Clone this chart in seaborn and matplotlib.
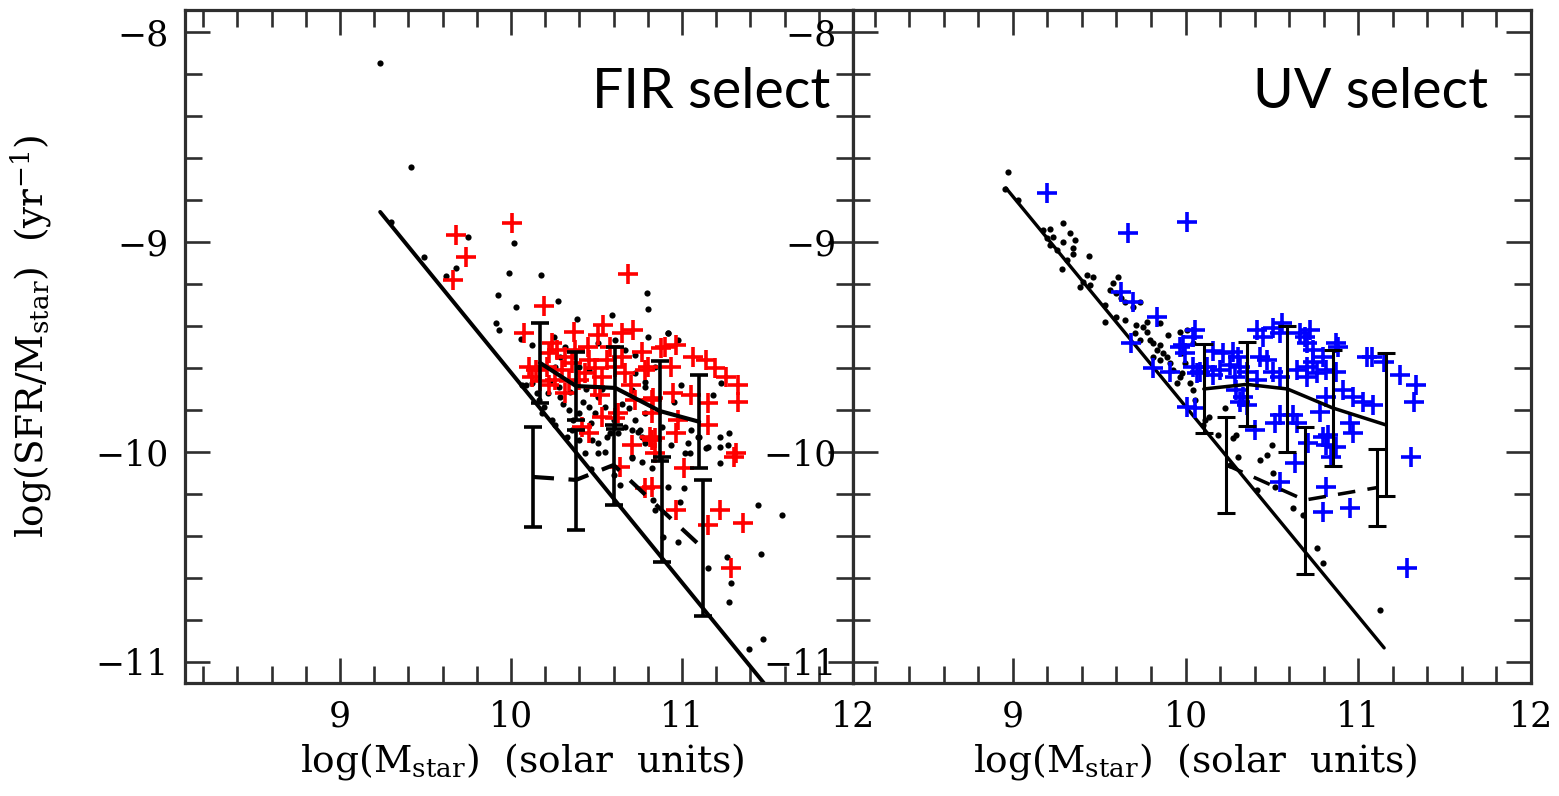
import matplotlib
matplotlib.use("Agg")
import matplotlib.pyplot as plt
from matplotlib.ticker import MultipleLocator
import seaborn as sns

# ---------------- FIR-selected sample (left panel) ----------------
fir_dot_m = [9.233, 9.417, 9.300, 9.494, 9.746, 9.678, 9.620, 10.017, 9.988, 9.924,
             10.030, 9.913, 9.930, 10.173, 10.275, 10.793, 10.802, 10.386, 10.589, 10.800,
             10.124, 10.250, 10.056, 10.725, 11.277, 11.219, 11.267, 11.219, 11.151, 11.219,
             11.442, 11.587, 11.461, 11.264, 11.287, 11.277, 11.471, 11.393, 11.151, 10.977,
             10.890, 11.014, 10.986, 10.841, 10.831, 10.919, 10.638, 10.705, 10.763, 10.822,
             10.434, 10.510, 10.550, 10.510, 10.473, 10.395, 10.628, 10.705, 10.763, 11.035,
             11.093, 11.045, 10.124, 10.163, 10.192, 10.085, 10.279, 10.289, 10.347, 10.337,
             10.395, 10.357, 10.453, 10.510, 10.492, 10.550, 10.579, 10.667, 10.725, 10.783,
             10.754, 10.705, 10.260, 10.289, 10.318, 10.510, 10.607, 10.667, 10.395, 10.453,
             10.725, 10.783, 10.705, 10.841, 10.182, 10.240, 10.066, 10.919, 10.977, 10.996,
             11.180, 11.228, 11.054, 11.141, 10.744, 10.783, 10.938, 11.015, 10.783, 10.919,
             10.215, 10.305, 10.365, 10.420, 10.470, 10.530, 10.600, 10.650, 10.255, 10.330,
             10.440, 10.560, 10.690, 10.880, 10.950, 11.100, 10.600, 10.470, 10.150, 10.230]
fir_dot_s = [-8.149, -8.641, -8.903, -9.070, -8.978, -9.125, -9.162, -9.003, -9.146, -9.252,
             -9.310, -9.386, -9.420, -9.157, -9.279, -9.244, -9.319, -9.367, -9.348, -9.451,
             -9.490, -9.454, -9.463, -9.538, -9.908, -9.927, -9.967, -9.975, -9.975, -10.051,
             -10.252, -10.300, -10.486, -10.502, -10.625, -10.713, -10.892, -10.940, -10.554, -10.427,
             -10.403, -10.173, -10.237, -10.276, -10.229, -10.165, -10.157, -10.030, -10.046, -10.078,
             -10.006, -10.006, -9.998, -9.959, -9.943, -9.943, -9.911, -9.895, -9.927, -9.959,
             -9.927, -10.006, -9.673, -9.752, -9.784, -9.681, -9.689, -9.736, -9.713, -9.800,
             -9.816, -9.895, -9.784, -9.736, -9.816, -9.784, -9.911, -9.879, -9.848, -9.816,
             -9.895, -10.022, -9.594, -9.546, -9.499, -9.483, -9.467, -9.514, -9.594, -9.610,
             -9.625, -9.665, -9.705, -9.594, -9.816, -9.848, -9.681, -9.435, -9.467, -9.681,
             -9.729, -9.673, -9.895, -9.982, -9.903, -9.959, -9.967, -10.006, -9.689, -9.432,
             -9.720, -9.770, -9.850, -9.760, -9.860, -9.700, -9.850, -9.770, -9.870, -9.930,
             -9.700, -9.930, -9.790, -9.880, -9.760, -9.930, -10.110, -10.080, -9.720, -9.660]

fir_ir_m = [9.678, 9.736, 9.659, 10.008, 10.686, 10.192, 10.076, 10.366, 10.540, 10.510,
            10.715, 10.763, 10.105, 10.144, 10.221, 10.318, 10.450, 10.560, 10.666, 10.783,
            10.260, 10.434, 10.492, 10.318, 10.725, 10.822, 10.415, 10.453, 10.531, 10.628,
            10.705, 10.822, 10.822, 10.899, 10.967, 10.802, 10.938, 11.064, 11.141, 11.190,
            11.258, 11.326, 11.326, 11.054, 11.151, 10.948, 10.831, 10.977, 10.967, 11.151,
            10.841, 11.316, 10.812, 10.841, 11.014, 10.638, 10.783, 10.822, 10.967, 11.219,
            11.151, 11.355, 11.287, 11.306, 10.211, 10.357, 10.453, 10.376, 10.298, 10.492,
            10.607, 10.647, 10.531, 10.395, 10.221, 10.124, 10.647, 10.879, 10.270, 10.607,
            10.170, 10.240, 10.340, 10.580, 10.700, 10.520]
fir_ir_s = [-8.967, -9.070, -9.181, -8.911, -9.152, -9.305, -9.432, -9.427, -9.395, -9.443,
            -9.419, -9.522, -9.594, -9.610, -9.530, -9.546, -9.499, -9.562, -9.625, -9.610,
            -9.657, -9.625, -9.689, -9.720, -9.752, -9.752, -9.879, -9.911, -9.832, -9.816,
            -9.967, -9.816, -9.943, -9.499, -9.490, -9.594, -9.594, -9.546, -9.562, -9.601,
            -9.641, -9.681, -9.760, -9.729, -9.768, -9.720, -9.744, -9.848, -9.911, -9.871,
            -9.935, -10.006, -9.927, -10.006, -10.078, -10.070, -10.173, -10.165, -10.276, -10.276,
            -10.348, -10.340, -10.554, -10.022, -9.594, -9.578, -9.562, -9.514, -9.610, -9.601,
            -9.594, -9.546, -9.641, -9.657, -9.681, -9.641, -9.435, -9.506, -9.514, -9.840,
            -9.660, -9.480, -9.660, -9.500, -9.680, -9.730]

# binned medians: upper (solid) and lower (dashed) sequences
fir_hi_m = [10.17, 10.38, 10.61, 10.87, 11.10]
fir_hi_s = [-9.576, -9.686, -9.695, -9.805, -9.856]
fir_hi_e = [0.190, 0.160, 0.195, 0.240, 0.222]
fir_lo_m = [10.13, 10.38, 10.60, 10.88, 11.12]
fir_lo_s = [-10.119, -10.133, -10.062, -10.276, -10.457]
fir_lo_e = [0.240, 0.238, 0.190, 0.250, 0.325]

# constant-SFR detection limit: log(SFR/M) = log SFR_lim - log M
fir_lim_sfr = 0.378
fir_lim_m = [9.235, 11.52]

# ---------------- UV-selected sample (right panel) ----------------
uv_dot_m = [8.973, 8.954, 9.031, 9.291, 9.175, 9.214, 9.195, 9.233, 9.214, 9.330,
            9.359, 9.291, 9.349, 9.349, 9.253, 9.311, 9.282, 9.442, 9.427, 9.465,
            9.407, 9.446, 9.388, 9.610, 9.581, 9.562, 9.600, 9.629, 9.649, 9.533,
            9.600, 9.533, 9.649, 9.697, 9.735, 9.716, 9.755, 9.774, 9.706, 9.735,
            9.793, 9.812, 9.851, 9.832, 9.870, 9.812, 9.851, 9.909, 9.890, 9.899,
            9.967, 10.044, 9.928, 9.967, 10.025, 10.044, 9.948, 10.102, 10.189, 10.276,
            10.305, 10.498, 10.469, 10.430, 10.256, 10.411, 10.507, 10.517, 10.623, 10.681,
            10.759, 10.797, 11.125, 10.133, 10.293, 9.977, 9.977, 10.054, 10.112, 10.228,
            9.996, 10.006, 9.851, 9.774]
uv_dot_s = [-8.665, -8.749, -8.800, -8.908, -8.943, -8.940, -8.982, -8.978, -9.014, -8.959,
            -8.990, -8.998, -9.030, -9.057, -9.038, -9.086, -9.130, -9.067, -9.157, -9.165,
            -9.189, -9.205, -9.213, -9.165, -9.197, -9.229, -9.244, -9.268, -9.284, -9.300,
            -9.356, -9.380, -9.371, -9.308, -9.284, -9.395, -9.403, -9.427, -9.435, -9.467,
            -9.467, -9.483, -9.490, -9.514, -9.530, -9.546, -9.562, -9.578, -9.546, -9.443,
            -9.427, -9.483, -9.610, -9.641, -9.673, -9.705, -9.673, -9.871, -9.919, -9.935,
            -10.022, -9.967, -10.014, -10.038, -10.062, -10.181, -10.102, -10.165, -10.268, -10.300,
            -10.459, -10.530, -10.752, -9.832, -9.919, -9.530, -9.625, -9.752, -9.848, -9.792,
            -9.578, -9.419, -9.387, -9.380]

uv_uv_m = [9.195, 9.668, 10.006, 9.629, 9.697, 9.832, 9.687, 9.812, 9.909, 9.967,
           9.996, 10.044, 10.054, 10.044, 10.064, 10.006, 10.054, 10.413, 10.507, 10.560,
           10.720, 10.693, 10.880, 11.081, 11.147, 11.240, 11.333, 9.986, 10.083, 10.122,
           10.160, 10.199, 10.218, 10.276, 10.305, 10.257, 10.314, 10.286, 10.353, 10.546,
           10.449, 10.430, 10.469, 10.507, 10.546, 10.411, 10.643, 10.701, 10.739, 10.701,
           10.759, 10.662, 10.701, 10.739, 10.816, 10.874, 10.874, 10.797, 10.913, 10.971,
           11.029, 11.086, 11.048, 10.816, 10.778, 10.951, 10.971, 10.826, 10.816, 10.295,
           10.334, 10.353, 10.314, 10.401, 10.546, 10.517, 10.623, 10.643, 10.710, 10.633,
           10.797, 10.874, 10.845, 10.546, 10.816, 10.797, 10.951, 11.307, 11.280, 11.320,
           10.160]
uv_uv_s = [-8.768, -8.959, -8.903, -9.237, -9.284, -9.356, -9.483, -9.601, -9.617, -9.499,
           -9.530, -9.451, -9.419, -9.594, -9.625, -9.784, -9.792, -9.419, -9.411, -9.387,
           -9.419, -9.451, -9.499, -9.546, -9.570, -9.633, -9.681, -9.490, -9.617, -9.594,
           -9.633, -9.610, -9.530, -9.522, -9.546, -9.586, -9.594, -9.641, -9.617, -9.435,
           -9.451, -9.546, -9.562, -9.617, -9.641, -9.657, -9.610, -9.594, -9.570, -9.641,
           -9.625, -9.435, -9.483, -9.514, -9.610, -9.617, -9.483, -9.546, -9.705, -9.736,
           -9.760, -9.776, -9.546, -9.736, -9.808, -9.863, -9.911, -9.919, -9.967, -9.705,
           -9.736, -9.776, -9.760, -9.895, -9.824, -9.863, -9.824, -9.863, -9.959, -10.054,
           -9.927, -9.975, -10.022, -10.141, -10.165, -10.284, -10.268, -10.022, -10.554, -9.760,
           -9.520]

uv_hi_m = [10.106, 10.355, 10.590, 10.851, 11.160]
uv_hi_s = [-9.700, -9.678, -9.700, -9.790, -9.871]
uv_hi_e = [0.212, 0.200, 0.300, 0.276, 0.340]
uv_lo_m = [10.237, 10.690, 11.106]
uv_lo_s = [-10.062, -10.229, -10.170]
uv_lo_e = [0.228, 0.350, 0.183]

uv_lim_sfr = 0.217
uv_lim_m = [8.96, 11.15]

sns.set_theme(style="white")
plt.rcParams["font.family"] = ["DejaVu Serif"]
plt.rcParams["mathtext.fontset"] = "dejavuserif"
plt.rcParams["axes.labelcolor"] = "black"
plt.rcParams["text.color"] = "black"

FRAME = "#2e2e2e"
fig = plt.figure(figsize=(15.59, 7.96), dpi=100)
axL = fig.add_axes([0.1187, 0.142, 0.4285, 0.8455])
axR = fig.add_axes([0.5471, 0.142, 0.4349, 0.8455])


def draw_panel(ax, dot_m, dot_s, sel_m, sel_s, sel_color,
               hi, lo, lim_sfr, lim_m, lw, xlo, title, title_x):
    # detection limit line
    lim_s = [lim_sfr - m for m in lim_m]
    sns.lineplot(x=lim_m, y=lim_s, ax=ax, color="black", linewidth=lw * 1.1,
                 sort=False, estimator=None, zorder=2)
    # full sample (dots) and selected galaxies (crosses)
    sns.scatterplot(x=dot_m, y=dot_s, ax=ax, color="black", s=20,
                    linewidth=0, zorder=3)
    sns.scatterplot(x=sel_m, y=sel_s, ax=ax, color=sel_color, marker="+",
                    s=190, linewidth=2.6, zorder=4)
    # binned medians with scatter
    for (m, s, e), style in ((hi, "-"), (lo, (0, (5, 3.5)))):
        sns.lineplot(x=m, y=s, ax=ax, color="black", linewidth=lw * 1.15,
                     sort=False, estimator=None, linestyle=style, zorder=5)
        ax.errorbar(m, s, yerr=e, fmt="none", ecolor="black", elinewidth=lw,
                    capsize=6.5, capthick=lw, zorder=5)

    ax.set_xlim(xlo, 12.0)
    ax.set_ylim(-11.1, -7.895)
    ax.xaxis.set_minor_locator(MultipleLocator(0.2))
    ax.yaxis.set_major_locator(MultipleLocator(1))
    ax.yaxis.set_minor_locator(MultipleLocator(0.2))
    ax.set_xticks([9, 10, 11, 12])
    ax.set_xticklabels(["9", "10", "11", "12"])
    ax.tick_params(which="both", direction="in", top=True, right=True,
                   bottom=True, left=True, color=FRAME, width=1.9,
                   labelsize=25, labelcolor="black")
    ax.tick_params(which="major", length=18)
    ax.tick_params(which="minor", length=12)
    ax.tick_params(axis="x", pad=12)
    ax.tick_params(axis="y", pad=12)
    for sp in ax.spines.values():
        sp.set_color(FRAME)
        sp.set_linewidth(2.3)
    ax.set_xlabel(r"log(M$_{\rm star}$)  (solar  units)", fontsize=27,
                  color="black")
    ax.xaxis.set_label_coords(0.505, -0.086)
    ax.text(title_x, 0.854, title, transform=ax.transAxes, ha="right",
            va="baseline", fontsize=40, family="Lato", color="black")


draw_panel(axL, fir_dot_m, fir_dot_s, fir_ir_m, fir_ir_s, "#ff0000",
           (fir_hi_m, fir_hi_s, fir_hi_e), (fir_lo_m, fir_lo_s, fir_lo_e),
           fir_lim_sfr, fir_lim_m, 2.6, 8.094, "FIR select", 0.966)
draw_panel(axR, uv_dot_m, uv_dot_s, uv_uv_m, uv_uv_s, "#0000ff",
           (uv_hi_m, uv_hi_s, uv_hi_e), (uv_lo_m, uv_lo_s, uv_lo_e),
           uv_lim_sfr, uv_lim_m, 2.2, 8.074, "UV select", 0.9366)

axL.set_ylabel(r"log(SFR/M$_{\rm star}$)  (yr$^{-1}$)", fontsize=27,
               color="black")
axL.yaxis.set_label_coords(-0.196, 0.515)
axR.set_ylabel("")

fig.savefig("out.png", dpi=100)
